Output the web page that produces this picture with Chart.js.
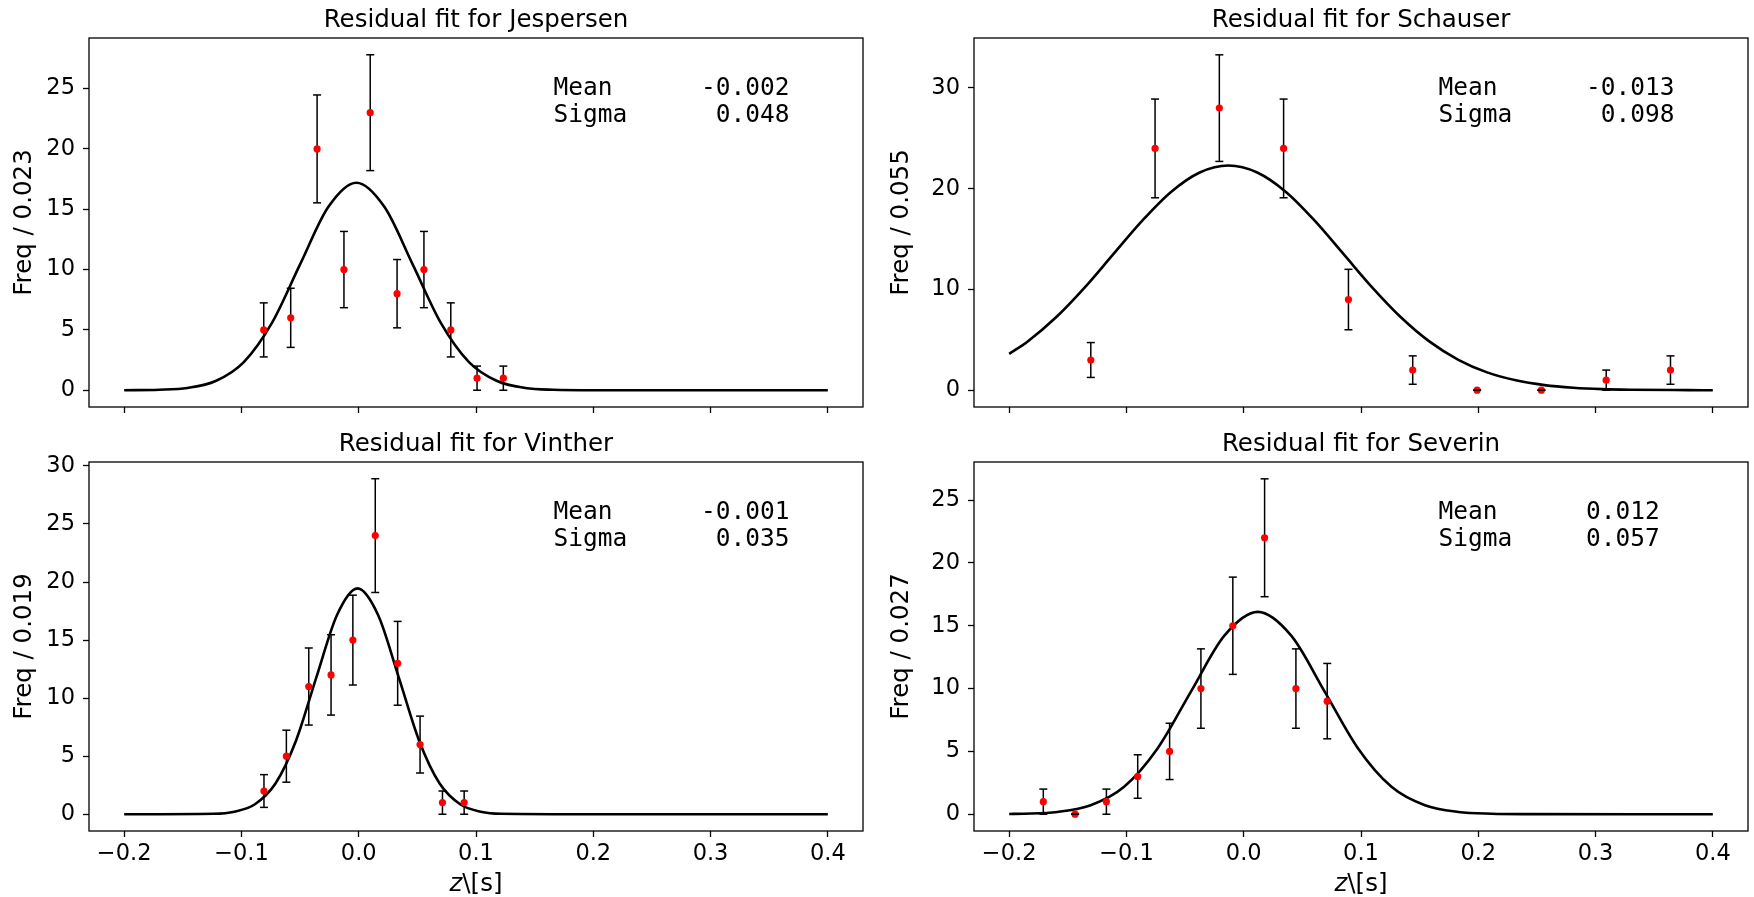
<!DOCTYPE html>
<html>
<head>
<meta charset="utf-8">
<script src="https://cdn.jsdelivr.net/npm/chart.js@4.4.1/dist/chart.umd.min.js"></script>
<style>
    html, body { margin: 0; padding: 0; background: #fff; }
    body { width: 1754px; height: 897px; position: relative; overflow: hidden; }
    .panel { position: absolute; }
</style>
</head>
<body>
<div class="panel" style="left:0;top:0;width:877px;height:448px"><canvas id="c1"></canvas></div>
<div class="panel" style="left:877px;top:0;width:877px;height:448px"><canvas id="c2"></canvas></div>
<div class="panel" style="left:0;top:424px;width:877px;height:473px"><canvas id="c3"></canvas></div>
<div class="panel" style="left:877px;top:424px;width:877px;height:473px"><canvas id="c4"></canvas></div>
<script>
'use strict';

/* ───── DATA ──────────────────────────────────────────────────────────── */
const xTicks = [-0.2, -0.1, 0.0, 0.1, 0.2, 0.3, 0.4];

// Jespersen
const jesBinX   = [-0.081, -0.058, -0.0355, -0.0126, 0.0098, 0.0327, 0.0556, 0.0785, 0.1009, 0.1233];
const jesCounts = [5, 6, 20, 10, 23, 8, 10, 5, 1, 1];
const jesErr    = [2.24, 2.45, 4.47, 3.16, 4.80, 2.83, 3.16, 2.24, 1.00, 1.00];
const jesFitX   = [-0.200, -0.170, -0.146, -0.122, -0.098, -0.074, -0.050, -0.026, -0.002, 0.022, 0.046, 0.070, 0.094, 0.118, 0.142, 0.166, 0.200, 0.400];
const jesFitY   = [0.00, 0.04, 0.19, 0.76, 2.33, 5.58, 10.43, 15.18, 17.20, 15.18, 10.43, 5.58, 2.33, 0.76, 0.19, 0.04, 0.00, 0.00];
const jesYTicks = [0, 5, 10, 15, 20, 25];
const jesStats  = ['Mean      -0.002', 'Sigma      0.048'];

// Schauser
const schBinX   = [-0.1304, -0.0756, -0.0208, 0.0340, 0.0893, 0.1441, 0.1990, 0.2538, 0.3091, 0.3639];
const schCounts = [3, 24, 28, 24, 9, 2, 0, 0, 1, 2];
const schErr    = [1.73, 4.90, 5.29, 4.90, 3.00, 1.41, 0, 0, 1.00, 1.41];
const schFitX   = [-0.200, -0.1845, -0.160, -0.1355, -0.111, -0.0865, -0.062, -0.0375, -0.013, 0.0115, 0.036, 0.0605,
                   0.085, 0.1095, 0.134, 0.1585, 0.183, 0.2075, 0.232, 0.2565, 0.281, 0.3055, 0.330, 0.379, 0.400];
const schFitY   = [3.61, 4.82, 7.24, 10.21, 13.53, 16.83, 19.68, 21.61, 22.30, 21.61, 19.68, 16.83,
                   13.53, 10.21, 7.24, 4.82, 3.02, 1.77, 0.98, 0.51, 0.25, 0.11, 0.05, 0.01, 0.00];
const schYTicks = [0, 10, 20, 30];
const schStats  = ['Mean      -0.013', 'Sigma      0.098'];

// Vinther
const vinBinX   = [-0.0808, -0.0617, -0.0426, -0.0236, -0.0050, 0.0141, 0.0332, 0.0523, 0.0714, 0.0899];
const vinCounts = [2, 5, 11, 12, 15, 24, 13, 6, 1, 1];
const vinErr    = [1.41, 2.24, 3.32, 3.46, 3.87, 4.90, 3.61, 2.45, 1.00, 1.00];
const vinFitX   = [-0.200, -0.1235, -0.106, -0.0885, -0.071, -0.0535, -0.036, -0.0185, -0.001, 0.0165, 0.034, 0.0515, 0.069, 0.0865, 0.104, 0.1215, 0.200, 0.400];
const vinFitY   = [0.00, 0.04, 0.22, 0.86, 2.64, 6.33, 11.83, 17.16, 19.45, 17.16, 11.83, 6.33, 2.64, 0.86, 0.22, 0.04, 0.00, 0.00];
const vinYTicks = [0, 5, 10, 15, 20, 25, 30];
const vinStats  = ['Mean      -0.001', 'Sigma      0.035'];

// Severin
const sevBinX   = [-0.1709, -0.1438, -0.1171, -0.0904, -0.0632, -0.0365, -0.0093, 0.0178, 0.0445, 0.0712];
const sevCounts = [1, 0, 1, 3, 5, 10, 15, 22, 10, 9];
const sevErr    = [1.00, 0, 1.00, 1.73, 2.24, 3.16, 3.87, 4.69, 3.16, 3.00];
const sevFitX   = [-0.200, -0.1875, -0.159, -0.1305, -0.102, -0.0735, -0.045, -0.0165, 0.012, 0.0405, 0.069, 0.0975, 0.126, 0.1545, 0.183, 0.2115, 0.240, 0.400];
const sevFitY   = [0.02, 0.04, 0.18, 0.71, 2.18, 5.23, 9.76, 14.21, 16.10, 14.21, 9.76, 5.23, 2.18, 0.71, 0.18, 0.04, 0.01, 0.00];
const sevYTicks = [0, 5, 10, 15, 20, 25];
const sevStats  = ['Mean      0.012', 'Sigma     0.057'];

/* ───── PANEL SETUP ───────────────────────────────────────────────────── */
const panels = {
    c1: { title: 'Residual fit for Jespersen', yLabel: 'Freq / 0.023', binX: jesBinX, counts: jesCounts, errs: jesErr,
          fitX: jesFitX, fitY: jesFitY, yTicks: jesYTicks, yMin: -1.39, yMax: 29.19, stats: jesStats,
          bottom: false, yWidth: 89, padRight: 14 },
    c2: { title: 'Residual fit for Schauser', yLabel: 'Freq / 0.055', binX: schBinX, counts: schCounts, errs: schErr,
          fitX: schFitX, fitY: schFitY, yTicks: schYTicks, yMin: -1.665, yMax: 34.96, stats: schStats,
          bottom: false, yWidth: 97, padRight: 6 },
    c3: { title: 'Residual fit for Vinther', yLabel: 'Freq / 0.019', binX: vinBinX, counts: vinCounts, errs: vinErr,
          fitX: vinFitX, fitY: vinFitY, yTicks: vinYTicks, yMin: -1.445, yMax: 30.34, stats: vinStats,
          bottom: true, yWidth: 89, padRight: 14 },
    c4: { title: 'Residual fit for Severin', yLabel: 'Freq / 0.027', binX: sevBinX, counts: sevCounts, errs: sevErr,
          fitX: sevFitX, fitY: sevFitY, yTicks: sevYTicks, yMin: -1.335, yMax: 28.03, stats: sevStats,
          bottom: true, yWidth: 97, padRight: 6 },
};

const FONT = 'DejaVu Sans';
Chart.defaults.font.family = FONT;
Chart.defaults.color = '#000';

function fmtX(v) {
    const s = Math.abs(v).toFixed(1);
    return v < -1e-9 ? '\u2212' + s : s;
}

/* ───── ERROR BARS, FRAME, TITLE, STATS BOX, X LABEL ─────────────────── */
const panelDecor = {
    id: 'panelDecor',
    beforeDatasetsDraw(chart) {
        const p = panels[chart.canvas.id];
        const { ctx, scales: { x, y } } = chart;
        ctx.save();
        ctx.strokeStyle = '#000';
        ctx.lineWidth = 1.5;
        p.binX.forEach((xv, i) => {
            const px = x.getPixelForValue(xv);
            ctx.beginPath();
            ctx.moveTo(px, y.getPixelForValue(p.counts[i] - p.errs[i]));
            ctx.lineTo(px, y.getPixelForValue(p.counts[i] + p.errs[i]));
            ctx.stroke();
        });
        ctx.restore();
    },
    afterDatasetsDraw(chart) {
        const p = panels[chart.canvas.id];
        const { ctx, chartArea: a, scales: { x, y } } = chart;
        const cx = (a.left + a.right) / 2;
        ctx.save();

        // caps (drawn over the dots, like matplotlib)
        ctx.strokeStyle = '#000';
        ctx.lineWidth = 1.5;
        p.binX.forEach((xv, i) => {
            const px = x.getPixelForValue(xv);
            [p.counts[i] - p.errs[i], p.counts[i] + p.errs[i]].forEach(v => {
                const py = y.getPixelForValue(v);
                ctx.beginPath(); ctx.moveTo(px - 4, py); ctx.lineTo(px + 4, py); ctx.stroke();
            });
        });

        // axes frame
        ctx.lineWidth = 1.3;
        ctx.strokeRect(a.left, a.top, a.right - a.left, a.bottom - a.top);

        // title, centred on the axes
        ctx.fillStyle = '#000';
        ctx.textBaseline = 'alphabetic';
        ctx.textAlign = 'center';
        ctx.font = '24.5px "' + FONT + '"';
        ctx.fillText(p.title, cx, a.top - 11);

        // Mean / Sigma text
        ctx.textAlign = 'left';
        ctx.font = '24.5px "DejaVu Sans Mono"';
        const tx = a.left + 0.6 * (a.right - a.left);
        p.stats.forEach((line, i) => ctx.fillText(line, tx, a.top + 57 + i * 27));

        // x label  z\[s]  with italic z
        if (p.bottom) {
            const italic = 'italic 24.5px "' + FONT + '"';
            const upright = '24.5px "' + FONT + '"';
            ctx.font = italic;
            const w1 = ctx.measureText('z').width;
            ctx.font = upright;
            const w2 = ctx.measureText('\\[s]').width;
            const x0 = cx - (w1 + w2) / 2;
            const by = a.bottom + 60;
            ctx.font = italic;
            ctx.fillText('z', x0, by);
            ctx.font = upright;
            ctx.fillText('\\[s]', x0 + w1, by);
        }
        ctx.restore();
    },
};

function buildPanel(id) {
    const p = panels[id];
    const tickGrid = { display: true, drawOnChartArea: false, drawTicks: true, tickLength: 6, tickWidth: 1.3, tickColor: '#000' };
    return new Chart(document.getElementById(id), {
        type: 'scatter',
        data: {
            datasets: [
                {
                    data: p.binX.map((xv, i) => ({ x: xv, y: p.counts[i] })),
                    pointRadius: 3.6, pointHoverRadius: 3.6,
                    pointBackgroundColor: '#ff0000', pointBorderWidth: 0,
                },
                {
                    data: p.fitX.map((xv, i) => ({ x: xv, y: p.fitY[i] })),
                    showLine: true, pointRadius: 0, pointHoverRadius: 0,
                    borderColor: '#000', borderWidth: 2.6,
                    cubicInterpolationMode: 'monotone', fill: false,
                },
            ],
        },
        options: {
            responsive: true, maintainAspectRatio: false, animation: false, events: [],
            layout: { padding: { left: 0, top: 38, bottom: 0, right: p.padRight } },
            plugins: {
                legend: { display: false },
                tooltip: { enabled: false },
                title: { display: false },
            },
            scales: {
                x: {
                    type: 'linear', min: -0.23, max: 0.43,
                    afterBuildTicks: ax => { ax.ticks = xTicks.map(v => ({ value: v })); },
                    afterFit: s => { s.height = p.bottom ? 66 : 41; },
                    ticks: { display: p.bottom, autoSkip: false, maxRotation: 0, padding: 4,
                             color: '#000', font: { size: 22.5 }, callback: v => fmtX(v) },
                    grid: tickGrid,
                    border: { display: false },
                },
                y: {
                    type: 'linear', min: p.yMin, max: p.yMax,
                    afterBuildTicks: ax => { ax.ticks = p.yTicks.map(v => ({ value: v })); },
                    afterFit: s => { s.width = p.yWidth; },
                    ticks: { autoSkip: false, padding: 8, color: '#000', font: { size: 22.5 }, callback: v => String(v) },
                    grid: tickGrid,
                    border: { display: false },
                    title: { display: true, text: p.yLabel, color: '#000',
                             font: { size: 24.5 }, padding: { top: 10, bottom: 0 } },
                },
            },
        },
        plugins: [panelDecor],
    });
}

['c1', 'c2', 'c3', 'c4'].forEach(buildPanel);
</script>
</body>
</html>
